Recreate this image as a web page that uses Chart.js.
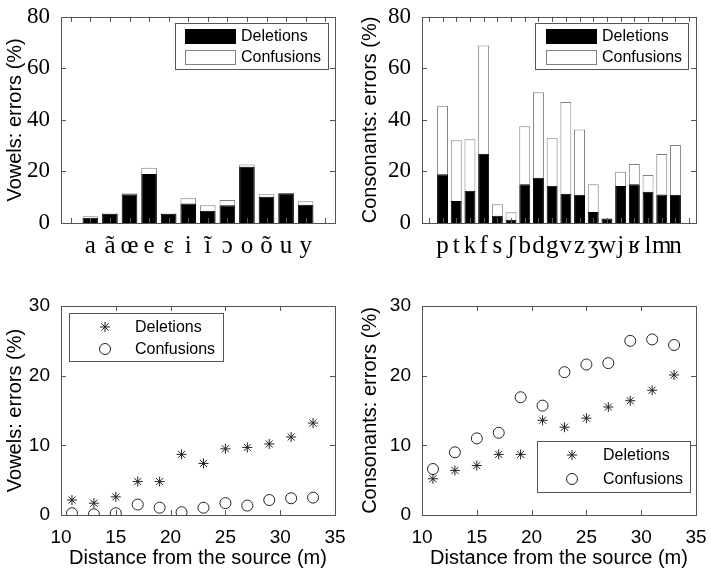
<!DOCTYPE html>
<html>
<head>
<meta charset="utf-8">
<script src="https://cdn.jsdelivr.net/npm/chart.js@4.4.0/dist/chart.umd.min.js"></script>
<style>
  body { margin: 0; background: #fff; width: 711px; height: 570px; position: relative; overflow: hidden; }
  canvas { position: absolute; }
</style>
</head>
<body>
<canvas id="c1" width="355" height="285" style="left:0;top:0"></canvas>
<canvas id="c2" width="356" height="285" style="left:355px;top:0"></canvas>
<canvas id="c3" width="355" height="285" style="left:0;top:285px"></canvas>
<canvas id="c4" width="356" height="285" style="left:355px;top:285px"></canvas>
<script>
// top panels: errors per phoneme (%)
const vowels = ['a', 'ã', 'œ', 'e', 'ɛ', 'i', 'ĩ', 'ɔ', 'o', 'õ', 'u', 'y'];
const vowelDeletions = [2.0, 3.6, 11.2, 19.0, 3.6, 7.6, 4.8, 6.9, 21.8, 10.2, 11.5, 7.1];
const vowelConfusions = [0.6, 0.4, 0.3, 2.4, 0.2, 2.0, 2.1, 2.0, 0.9, 1.0, 0.1, 1.3];

const consonants = ['p', 't', 'k', 'f', 's', 'ʃ', 'b', 'd', 'g', 'v', 'z', 'ʒ', 'w', 'j', 'ʁ', 'l', 'm', 'n'];
const consDeletions = [18.9, 8.5, 12.5, 26.9, 2.8, 1.3, 15.0, 17.6, 14.5, 11.3, 11.0, 4.3, 1.7, 14.4, 15.0, 12.1, 11.1, 11.0];
const consConfusions = [26.6, 23.6, 20.0, 42.0, 4.5, 2.9, 22.5, 33.1, 18.4, 35.6, 25.3, 10.7, 0, 5.5, 7.9, 6.5, 15.7, 19.3];

// bottom panels: errors vs distance
const distances = [11, 13, 15, 17, 19, 21, 23, 25, 27, 29, 31, 33];
const vowelDelDist = [2.15, 1.7, 2.6, 4.8, 4.8, 8.7, 7.4, 9.5, 9.7, 10.2, 11.2, 13.2];
const vowelConfDist = [0.25, 0.1, 0.25, 1.5, 1.05, 0.4, 1.05, 1.7, 1.35, 2.15, 2.4, 2.5];
const consDelDist = [5.2, 6.4, 7.1, 8.7, 8.7, 13.6, 12.6, 13.9, 15.5, 16.4, 17.9, 20.1];
const consConfDist = [6.6, 9.0, 11.0, 11.8, 16.9, 15.7, 20.5, 21.6, 21.8, 25.0, 25.2, 24.4];

Chart.defaults.font.family = "'Liberation Sans', Arial, sans-serif";
Chart.defaults.color = '#000';
Chart.defaults.animation = false;

const AXIS = '#555';

// MATLAB style box with ticks pointing inward
const boxTicks = {
  id: 'boxTicks',
  afterDatasetsDraw(chart) {
    const { ctx, chartArea: a, scales: { x, y } } = chart;
    const len = 5;
    ctx.save();
    ctx.strokeStyle = AXIS;
    ctx.lineWidth = 1;
    ctx.beginPath();
    y.ticks.forEach(t => {
      const p = Math.round(y.getPixelForValue(t.value)) + 0.5;
      ctx.moveTo(a.left, p); ctx.lineTo(a.left + len, p);
      ctx.moveTo(a.right, p); ctx.lineTo(a.right - len, p);
    });
    x.ticks.forEach(t => {
      const p = Math.round(x.getPixelForValue(t.value)) + 0.5;
      ctx.moveTo(p, a.top); ctx.lineTo(p, a.top + len);
      ctx.moveTo(p, a.bottom); ctx.lineTo(p, a.bottom - len);
    });
    ctx.stroke();
    ctx.strokeRect(Math.round(a.left) + 0.5, Math.round(a.top) + 0.5,
      Math.round(a.right - a.left), Math.round(a.bottom - a.top));
    ctx.restore();
  }
};

// legend drawn in a box inside the plot
const boxLegend = {
  id: 'boxLegend',
  afterDraw(chart, args, o) {
    if (!o || !o.box) return;
    const ctx = chart.ctx;
    const b = o.box;
    ctx.save();
    ctx.fillStyle = '#fff';
    ctx.fillRect(b.x, b.y, b.w, b.h);
    ctx.strokeStyle = AXIS;
    ctx.lineWidth = 1;
    ctx.strokeRect(b.x + 0.5, b.y + 0.5, b.w, b.h);
    ctx.font = "16px 'Liberation Sans', Arial, sans-serif";
    ctx.textBaseline = 'middle';
    chart.data.datasets.forEach((ds, i) => {
      const cy = o.rows[i];
      ctx.fillStyle = ds.backgroundColor;
      ctx.strokeStyle = ds.borderColor;
      if (o.kind === 'bar') {
        ctx.fillRect(o.markX, cy - 7, 50, 15);
        ctx.strokeRect(o.markX + 0.5, cy - 6.5, 50, 14);
      } else {
        Chart.helpers.drawPoint(ctx, {
          pointStyle: ds.pointStyle, radius: ds.pointRadius, borderWidth: 1, rotation: 0
        }, o.markX, cy);
      }
      ctx.fillStyle = '#000';
      ctx.fillText(ds.label, o.textX, cy + 1);
    });
    ctx.restore();
  }
};

function barChart(id, names, del, conf, title, yWidth, padRight, legend) {
  const n = names.length;
  new Chart(document.getElementById(id), {
    type: 'bar',
    data: {
      datasets: [
        {
          label: 'Deletions',
          data: del.map((v, i) => ({ x: i + 1, y: v })),
          backgroundColor: '#000', borderColor: '#000', borderWidth: 1,
          barPercentage: 0.8, categoryPercentage: 1
        },
        {
          label: 'Confusions',
          data: conf.map((v, i) => ({ x: i + 1, y: v })),
          backgroundColor: '#fff', borderColor: '#808080', borderWidth: 1,
          borderSkipped: 'start',
          barPercentage: 0.8, categoryPercentage: 1
        }
      ]
    },
    options: {
      responsive: false,
      layout: { padding: { top: 14, right: padRight, left: 0, bottom: 0 } },
      plugins: { legend: { display: false }, tooltip: { enabled: false }, boxLegend: legend },
      scales: {
        x: {
          type: 'linear', stacked: true, min: 0, max: n + 1,
          grid: { display: false }, border: { display: false },
          afterFit: s => { s.height = 62; },
          ticks: {
            stepSize: 1, autoSkip: false, maxRotation: 0, padding: 0,
            font: { family: "'Liberation Serif', serif", size: 25 },
            callback: v => names[v - 1] || ''
          }
        },
        y: {
          stacked: true, min: 0, max: 80,
          grid: { display: false }, border: { display: false },
          afterFit: s => { s.width = yWidth; },
          ticks: { stepSize: 20, padding: 3, font: { family: "'Liberation Serif', serif", size: 23 } },
          title: { display: true, text: title, font: { size: 20 }, padding: { top: 3, bottom: 0 } }
        }
      }
    },
    plugins: [boxTicks, boxLegend]
  });
}

function scatterChart(id, del, conf, title, yWidth, padRight, legend) {
  new Chart(document.getElementById(id), {
    type: 'scatter',
    data: {
      datasets: [
        {
          label: 'Deletions',
          data: distances.map((d, i) => ({ x: d, y: del[i] })),
          pointStyle: 'star', pointRadius: 5, borderWidth: 1,
          borderColor: '#222', backgroundColor: '#222'
        },
        {
          label: 'Confusions',
          data: distances.map((d, i) => ({ x: d, y: conf[i] })),
          pointStyle: 'circle', pointRadius: 5.5, borderWidth: 1,
          borderColor: '#222', backgroundColor: 'rgba(0,0,0,0)'
        }
      ]
    },
    options: {
      responsive: false,
      layout: { padding: { top: 21, right: padRight, left: 0, bottom: 0 } },
      plugins: { legend: { display: false }, tooltip: { enabled: false }, boxLegend: legend },
      scales: {
        x: {
          type: 'linear', min: 10, max: 35,
          grid: { display: false }, border: { display: false },
          afterFit: s => { s.height = 55; },
          ticks: { stepSize: 5, padding: 3, maxRotation: 0, font: { size: 19 } },
          title: { display: true, text: 'Distance from the source (m)', font: { size: 20 }, padding: 0 }
        },
        y: {
          min: 0, max: 30,
          grid: { display: false }, border: { display: false },
          afterFit: s => { s.width = yWidth; },
          ticks: { stepSize: 10, padding: 3, font: { size: 19 } },
          title: { display: true, text: title, font: { size: 20 }, padding: { top: 3, bottom: 0 } }
        }
      }
    },
    plugins: [boxTicks, boxLegend]
  });
}

barChart('c1', vowels, vowelDeletions, vowelConfusions, 'Vowels: errors (%)', 61, 20,
  { kind: 'bar', box: { x: 175, y: 23, w: 153, h: 46 }, rows: [36, 57], markX: 185, textX: 241 });
barChart('c2', consonants, consDeletions, consConfusions, 'Consonants: errors (%)', 67, 15,
  { kind: 'bar', box: { x: 180, y: 23, w: 153, h: 46 }, rows: [36, 57], markX: 191, textX: 247 });
scatterChart('c3', vowelDelDist, vowelConfDist, 'Vowels: errors (%)', 61, 20,
  { kind: 'marker', box: { x: 69, y: 28, w: 154, h: 48 }, rows: [42, 64], markX: 105, textX: 135 });
scatterChart('c4', consDelDist, consConfDist, 'Consonants: errors (%)', 67, 15,
  { kind: 'marker', box: { x: 182, y: 156, w: 153, h: 51 }, rows: [170, 194], markX: 217, textX: 248 });
</script>
</body>
</html>
